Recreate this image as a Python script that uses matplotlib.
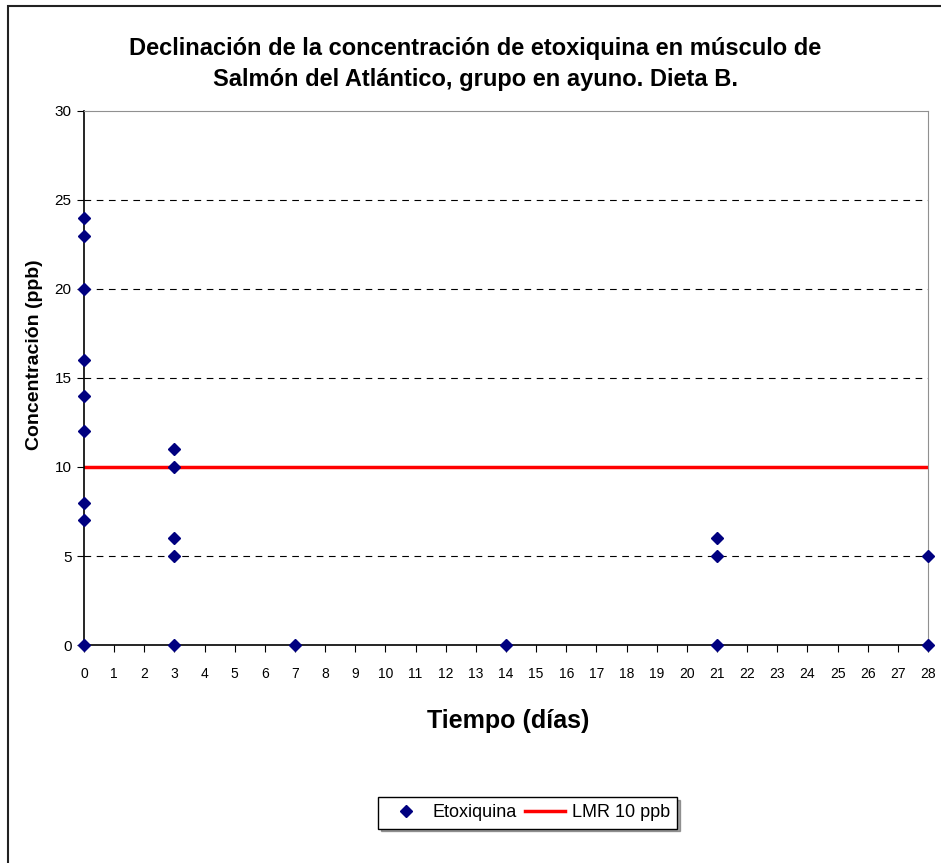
import matplotlib.pyplot as plt
from matplotlib.patches import Rectangle

plt.rcParams['font.family'] = ['Liberation Sans', 'DejaVu Sans']

# etoxiquina measurements (day, ppb)
dias = [0, 0, 0, 0, 0, 0, 0, 0, 0,
        3, 3, 3, 3, 3,
        7, 14,
        21, 21, 21,
        28, 28]
conc = [24, 23, 20, 16, 14, 12, 8, 7, 0,
        11, 10, 6, 5, 0,
        0, 0,
        6, 5, 0,
        5, 0]

lmr_dias = [0, 3, 7, 14, 21, 28]
lmr = [10, 10, 10, 10, 10, 10]

fig = plt.figure(figsize=(9.41, 8.63), dpi=100)
ax = fig.add_axes([0.0893, 0.2526, 0.8969, 0.6188])

# outer chart border (runs off the right and bottom edges)
fig.patches.append(Rectangle((8 / 941, -0.05), 1.2, 1 - 6 / 863 + 0.05,
                             transform=fig.transFigure, fill=False,
                             edgecolor='#222222', linewidth=1.5))

for y in [5, 15, 20, 25]:
    ax.axhline(y, color='black', linestyle=(0, (6, 5)), linewidth=0.8, zorder=1)

ax.plot(lmr_dias, lmr, color='#ff0000', linewidth=2.5, label='LMR 10 ppb', zorder=2)
ax.plot(dias, conc, linestyle='none', marker='D', markersize=6.5,
        color='#000080', label='Etoxiquina', clip_on=False, zorder=3)

ax.set_xlim(0, 28)
ax.set_ylim(0, 30)
ax.set_xticks(range(0, 29))
ax.set_yticks(range(0, 31, 5))
ax.tick_params(axis='x', labelsize=10, length=5, pad=11)
ax.tick_params(axis='y', labelsize=11, length=5, pad=4)

ax.spines['left'].set_color('black')
ax.spines['bottom'].set_color('black')
ax.spines['left'].set_linewidth(1.2)
ax.spines['bottom'].set_linewidth(1.2)
ax.spines['top'].set_color('#909090')
ax.spines['right'].set_color('#909090')

ax.set_ylabel('Concentración (ppb)', fontsize=14, fontweight='bold')
ax.yaxis.set_label_coords(-0.049, 0.543)
ax.set_xlabel('Tiempo (días)', fontsize=18, fontweight='bold')
ax.xaxis.set_label_coords(0.502, -0.12)

fig.text(0.505, 0.926, 'Declinación de la concentración de etoxiquina en músculo de\n'
         'Salmón del Atlántico, grupo en ayuno. Dieta B.',
         ha='center', va='center', fontsize=17, fontweight='bold', linespacing=1.45)

handles, labels = ax.get_legend_handles_labels()
leg = fig.legend(handles[::-1], labels[::-1], loc='center', bbox_to_anchor=(0.561, 0.058),
                 ncol=2, fontsize=13, frameon=True, fancybox=False, shadow=True,
                 edgecolor='black', handlelength=2.2, handletextpad=0.4,
                 columnspacing=0.45, borderpad=0.4)
leg.get_frame().set_linewidth(1)

fig.savefig('out.png', dpi=100)
